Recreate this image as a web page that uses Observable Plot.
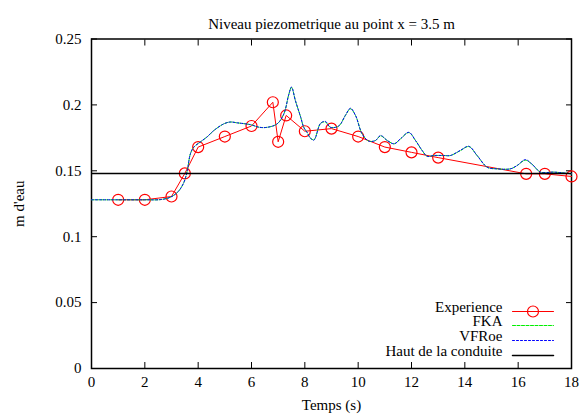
<!DOCTYPE html>
<html><head><meta charset="utf-8">
<script src="https://cdn.jsdelivr.net/npm/d3@7"></script>
<script src="https://cdn.jsdelivr.net/npm/@observablehq/plot@0.6"></script>
<style>
body{margin:0;background:#fff}
svg text, svg { font-family: 'Liberation Serif', 'DejaVu Serif', serif !important; font-variant: normal !important; }
</style>
</head><body><div id="chart"></div>
<script>
const titleText = "Niveau piezometrique au point x = 3.5 m";
const xLabel = "Temps (s)";
const yLabel = "m d'eau";
const xTicks = [0, 2, 4, 6, 8, 10, 12, 14, 16, 18];
const yTicks = [0, 0.05, 0.1, 0.15, 0.2, 0.25];
const yTickLabels = ["0", "0.05", "0.1", "0.15", "0.2", "0.25"];

const expT = [1, 2, 3, 3.5, 4, 5, 6, 6.8, 7, 7.3, 8, 9, 10, 11, 12, 13, 16.3, 17, 18];
const expY = [0.128, 0.128, 0.1305, 0.148, 0.168, 0.176, 0.184, 0.202, 0.172, 0.192, 0.180, 0.182, 0.176, 0.168, 0.164, 0.160, 0.1477, 0.1477, 0.1457];

const fkaT = [0, 1, 2, 2.6, 2.96, 3.24, 3.46, 3.59, 3.71, 3.84, 4.09, 4.35, 4.59, 4.96, 5.2, 5.46, 5.96, 6.3, 6.59, 6.96, 7.21, 7.4, 7.5, 7.65, 7.84, 7.96, 8.09, 8.2, 8.34, 8.59, 8.77, 8.96, 9.27, 9.52, 9.71, 9.9, 10.15, 10.4, 10.65, 10.84, 11.09, 11.35, 11.59, 11.9, 12.15, 12.4, 12.59, 12.84, 13.21, 13.46, 13.84, 14.15, 14.46, 14.84, 15.2, 15.71, 15.96, 16.27, 16.52, 16.84, 17.34, 18];
const fkaY = [0.128, 0.128, 0.128, 0.1282, 0.130, 0.134, 0.141, 0.150, 0.163, 0.168, 0.172, 0.176, 0.1806, 0.1856, 0.187, 0.1864, 0.185, 0.183, 0.183, 0.1856, 0.193, 0.208, 0.2134, 0.203, 0.191, 0.183, 0.179, 0.175, 0.1735, 0.186, 0.187, 0.183, 0.184, 0.192, 0.197, 0.192, 0.178, 0.1725, 0.173, 0.1765, 0.173, 0.1705, 0.1743, 0.179, 0.173, 0.1654, 0.161, 0.1616, 0.1616, 0.1616, 0.1654, 0.1684, 0.1616, 0.1527, 0.1515, 0.1515, 0.154, 0.158, 0.155, 0.149, 0.149, 0.1477];
const vfrT = [0, 1, 2, 2.6, 2.96, 3.24, 3.46, 3.59, 3.71, 3.84, 4.09, 4.35, 4.59, 4.96, 5.2, 5.46, 5.96, 6.3, 6.59, 6.96, 7.21, 7.4, 7.5, 7.65, 7.84, 7.96, 8.09, 8.2, 8.34, 8.59, 8.77, 8.96, 9.27, 9.52, 9.71, 9.9, 10.15, 10.4, 10.65, 10.84, 11.09, 11.35, 11.59, 11.9, 12.15, 12.4, 12.59, 12.84, 13.21, 13.46, 13.84, 14.15, 14.46, 14.84, 15.2, 15.71, 15.96, 16.27, 16.52, 16.84, 17.34, 18];
const vfrY = [0.128, 0.128, 0.128, 0.1282, 0.130, 0.134, 0.141, 0.150, 0.163, 0.168, 0.172, 0.176, 0.1806, 0.1856, 0.187, 0.1864, 0.185, 0.183, 0.183, 0.1856, 0.193, 0.208, 0.2135, 0.203, 0.191, 0.183, 0.179, 0.175, 0.1733, 0.186, 0.1875, 0.183, 0.184, 0.192, 0.1975, 0.192, 0.178, 0.1725, 0.173, 0.1768, 0.173, 0.1705, 0.1743, 0.1792, 0.173, 0.1654, 0.161, 0.1616, 0.1616, 0.1616, 0.1656, 0.1686, 0.1616, 0.1527, 0.1515, 0.1515, 0.154, 0.1585, 0.155, 0.149, 0.149, 0.1477];
const hautY = [0.148];
const legendNames = ["Experience", "FKA", "VFRoe", "Haut de la conduite"];

const exp = expT.map((t, i) => ({t, y: expY[i]}));
const fka = fkaT.map((t, i) => ({t, y: fkaY[i]}));
const vfr = vfrT.map((t, i) => ({t, y: vfrY[i]}));

const FONT = "'Liberation Serif', 'DejaVu Serif', serif";
const FS = 15;
const GREEN = "#00ee00", BLUE = "#0000ff", RED = "#ff0000";
const lineShape = {draw(context, l) { context.moveTo(0, 0); context.lineTo(0, -l); }};
const legendDy = [-57, -43, -28, -13];
const legendMarks = [];
legendNames.forEach((name, i) => {
  legendMarks.push(Plot.text([name], {frameAnchor: "bottom-right", text: d => d, textAnchor: "end", dx: -69, dy: legendDy[i], fill: "black", fontFamily: FONT, fontSize: FS}));
});
legendMarks.push(Plot.vector([0], {frameAnchor: "bottom-right", dx: -59, dy: legendDy[0], length: 41, rotate: 90, anchor: "start", shape: lineShape, stroke: RED, strokeWidth: 1}));
legendMarks.push(Plot.dot([0], {frameAnchor: "bottom-right", dx: -38.5, dy: legendDy[0], r: 5.5, stroke: RED, strokeWidth: 1.2}));
legendMarks.push(Plot.vector([0], {frameAnchor: "bottom-right", dx: -59, dy: legendDy[1], length: 41, rotate: 90, anchor: "start", shape: lineShape, stroke: GREEN, strokeDasharray: "3,1.5", strokeWidth: 1}));
legendMarks.push(Plot.vector([0], {frameAnchor: "bottom-right", dx: -59, dy: legendDy[2], length: 41, rotate: 90, anchor: "start", shape: lineShape, stroke: BLUE, strokeDasharray: "2,2", strokeWidth: 1}));
legendMarks.push(Plot.vector([0], {frameAnchor: "bottom-right", dx: -59, dy: legendDy[3], length: 41, rotate: 90, anchor: "start", shape: lineShape, stroke: "#000000", strokeWidth: 1.5}));

const chart = Plot.plot({
  width: 579,
  height: 418,
  marginLeft: 91,
  marginRight: 8,
  marginTop: 38.5,
  marginBottom: 50,
  style: "font-family: 'Liberation Serif', 'DejaVu Serif', serif; font-size: 15px; background: #fff; color: black;",
  x: {domain: [0, 18]},
  y: {domain: [0, 0.25]},
  marks: [
    Plot.frame({stroke: "black", strokeWidth: 1.5}),
    Plot.axisX(xTicks, {anchor: "bottom", tickSize: -6, tickPadding: 14, tickFormat: d => String(d), label: xLabel, labelAnchor: "center", labelArrow: "none", labelOffset: 41, fontSize: FS, fontFamily: FONT}),
    Plot.axisX(xTicks, {anchor: "top", tickSize: -6, tickFormat: () => "", label: null}),
    Plot.axisY(yTicks, {anchor: "left", tickSize: -6, tickPadding: 16, tickFormat: d => yTickLabels[yTicks.indexOf(d)], label: yLabel, labelAnchor: "center", labelArrow: "none", labelOffset: 78, fontSize: FS, fontFamily: FONT}),
    Plot.axisY(yTicks, {anchor: "right", tickSize: -6, tickFormat: () => "", label: null}),
    Plot.line(exp, {x: "t", y: "y", stroke: RED, strokeWidth: 1}),
    Plot.dot(exp, {x: "t", y: "y", r: 5.5, stroke: RED, strokeWidth: 1.2, fill: "none"}),
    Plot.line(fka, {x: "t", y: "y", stroke: GREEN, strokeDasharray: "3,1.5", strokeWidth: 1, curve: "catmull-rom"}),
    Plot.line(vfr, {x: "t", y: "y", stroke: BLUE, strokeDasharray: "2,2", strokeWidth: 1, curve: "catmull-rom"}),
    Plot.ruleY(hautY, {stroke: "black", strokeWidth: 1.5}),
    Plot.text([titleText], {frameAnchor: "top", dy: -21, text: d => d, fontSize: FS, fill: "black", fontFamily: FONT}),
    ...legendMarks
  ]
});
d3.select(chart).selectAll("g, text").attr("font-family", null).attr("font-variant", null);
d3.select(chart).selectAll("text").style("font-family", FONT).style("font-size", FS + "px");
document.getElementById("chart").appendChild(chart);
</script>
</body></html>
